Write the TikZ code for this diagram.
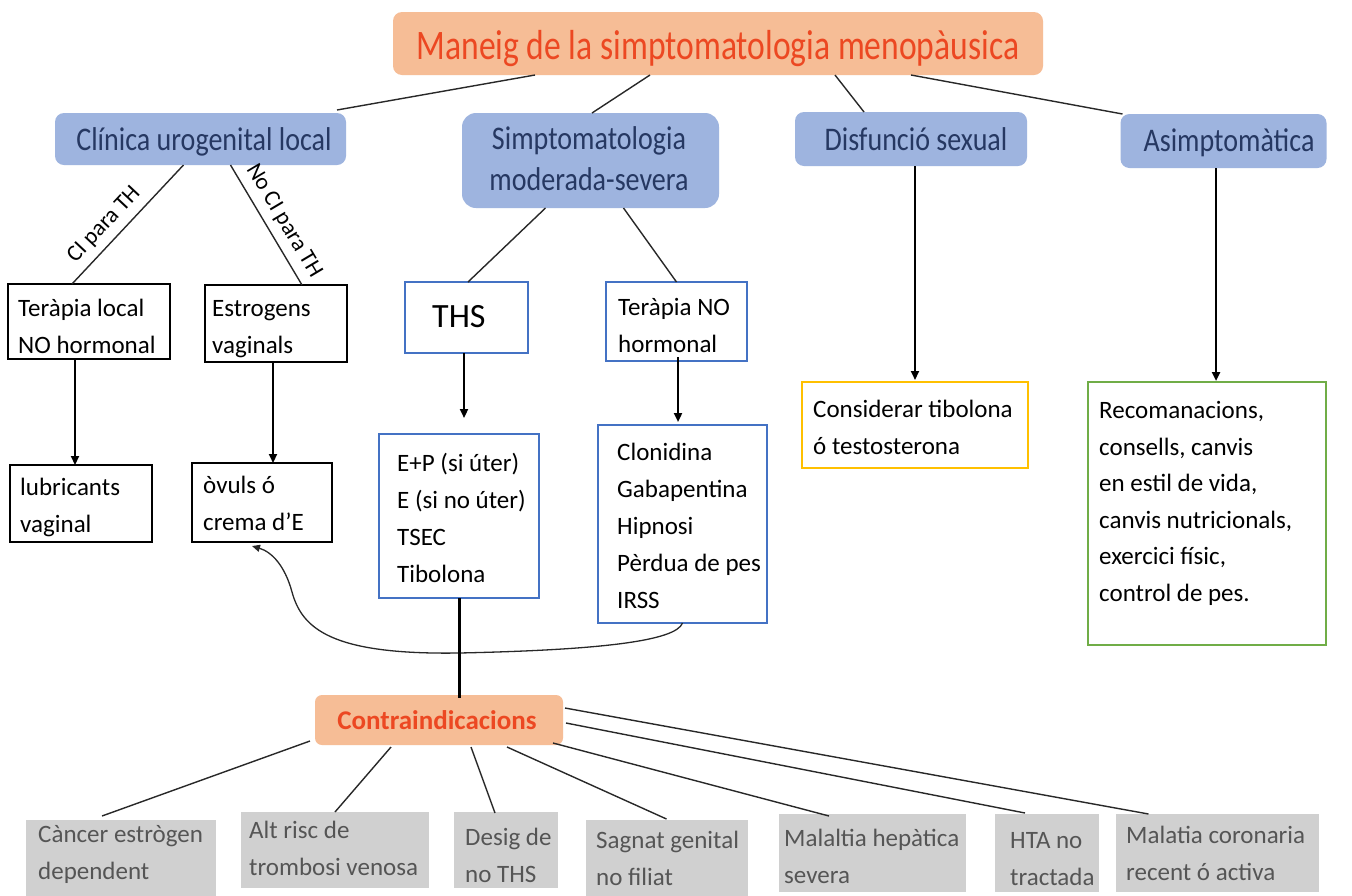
\documentclass[tikz,border=0pt]{standalone}
\usepackage{fontspec}
\setmainfont{Carlito}
\newfontfamily\condfam{Carlito}[FakeStretch=0.85]
\newfontfamily\titlefam{Carlito}[FakeStretch=0.80]
\usetikzlibrary{arrows.meta}
\definecolor{peach}{RGB}{246,189,150}
\definecolor{titlered}{RGB}{236,72,34}
\definecolor{hdrblue}{RGB}{158,180,223}
\definecolor{hdrtext}{RGB}{38,56,98}
\definecolor{boxblue}{RGB}{68,114,196}
\definecolor{boxyellow}{RGB}{255,192,0}
\definecolor{boxgreen}{RGB}{112,173,71}
\definecolor{grayfill}{RGB}{208,208,208}
\definecolor{graytext}{RGB}{85,85,85}
\definecolor{linegray}{RGB}{40,40,40}
\newcommand\myBody{\fontsize{25}{37}\selectfont}
\newcommand\myHdr{\condfam\fontsize{33}{41}\selectfont}
\newcommand\myTitle{\titlefam\fontsize{42}{50}\selectfont}
\newcommand\myLab{\fontsize{23}{28}\selectfont}
\newcommand\myThs{\fontsize{34}{40}\selectfont}
\newcommand\myContra{\bfseries\fontsize{27}{32}\selectfont}
\begin{document}
\begin{tikzpicture}[x=1pt,y=-1pt,
  conn/.style={draw=linegray, line width=1.4pt},
  arr/.style={draw=black, line width=2.2pt, -{Triangle[length=9pt,width=8pt]}},
  curv/.style={draw=linegray, line width=1.3pt, -{Triangle[length=8pt,width=7pt]}},
  basebox/.style={inner sep=0pt, outer sep=0pt, line width=1.3pt},
  titlebox/.style={basebox, fill=peach, rounded corners=9pt},
  hdr/.style={basebox, fill=hdrblue, rounded corners=9pt},
  blk/.style={basebox, draw=black},
  blu/.style={basebox, draw=boxblue},
  ylw/.style={basebox, draw=boxyellow},
  grn/.style={basebox, draw=boxgreen},
  gry/.style={basebox, fill=grayfill},
  htxt/.style={anchor=base, inner sep=0pt, font=\myHdr, text=hdrtext},
  txt/.style={anchor=north west, inner sep=0pt, align=left, font=\myBody, yshift=-9pt},
  gtxt/.style={txt, text=graytext},
  lab/.style={font=\myLab, inner sep=2pt}
]
\useasboundingbox[fill=white] (0,0) rectangle (1352,895);

% ---------- title ----------
\node[titlebox, minimum width=650pt, minimum height=63pt] (Title) at (718,43.5) {};
\node[anchor=base, inner sep=0pt, font=\myTitle, text=titlered] (tTitle) at (718,59) {Maneig de la simptomatologia menopàusica};

% ---------- headers ----------
\node[hdr, minimum width=291pt, minimum height=52pt] (Clin) at (200.5,139) {};
\node[htxt] (tClin) at (204,150) {Clínica urogenital local};
\node[hdr, rounded corners=14pt, minimum width=257pt, minimum height=95pt] (Simpt) at (590.5,160.5) {};
\node[htxt, anchor=north, align=center, yshift=-6pt] (tSimpt) at (589,120.3) {Simptomatologia\\moderada-severa};
\node[hdr, minimum width=232pt, minimum height=54pt] (Disf) at (911,139) {};
\node[htxt] (tDisf) at (916,150) {Disfunció sexual};
\node[hdr, minimum width=206pt, minimum height=54pt] (Asimp) at (1223.5,141) {};
\node[htxt] (tAsimp) at (1229,151) {Asimptomàtica};

% ---------- level 2 / 3 boxes ----------
\node[blk, minimum width=162pt, minimum height=75pt] (TerLoc) at (89,321.5) {};
\node[txt] (tTerLoc) at (18,290.1) {Teràpia local\\NO hormonal};
\node[blk, minimum width=142pt, minimum height=77pt] (Estr) at (276,323.5) {};
\node[txt] (tEstr) at (212,291.1) {Estrogens\\vaginals};
\node[blk, minimum width=142pt, minimum height=77pt] (Lubr) at (81,503.5) {};
\node[txt] (tLubr) at (20,469.1) {lubricants\\vaginal};
\node[blk, minimum width=140pt, minimum height=79pt] (Ovuls) at (262,502.5) {};
\node[txt] (tOvuls) at (203,467.1) {òvuls ó\\crema d’E};

\node[blu, minimum width=123pt, minimum height=71pt] (THS) at (466.5,317.5) {};
\node[anchor=base west, inner sep=0pt, font=\myThs] (tTHS) at (432,327) {THS};
\node[blu, minimum width=141pt, minimum height=79pt] (TerNO) at (676.5,321.5) {};
\node[txt] (tTerNO) at (618,289.1) {Teràpia NO\\hormonal};

\node[blu, minimum width=160pt, minimum height=164pt] (EP) at (459,516) {};
\node[txt] (tEP) at (397,444.1) {E+P (si úter)\\E (si no úter)\\TSEC\\Tibolona};
\node[blu, minimum width=169pt, minimum height=198pt] (Clon) at (682.5,524) {};
\node[txt] (tClon) at (617,434) {Clonidina\\Gabapentina\\Hipnosi\\Pèrdua de pes\\IRSS};

\node[ylw, minimum width=226pt, minimum height=86pt] (Cons) at (915,425) {};
\node[txt] (tCons) at (813,391.1) {Considerar tibolona\\ó testosterona};
\node[grn, minimum width=238pt, minimum height=263pt] (Recom) at (1207,513.5) {};
\node[txt, font=\fontsize{25}{36.6}\selectfont] (tRecom) at (1099,392) {Recomanacions,\\consells, canvis\\en estil de vida,\\canvis nutricionals,\\exercici físic,\\control de pes.};

% ---------- contraindications ----------
\node[titlebox, rounded corners=7pt, minimum width=248pt, minimum height=50pt] (Contra) at (439,720) {};
\node[anchor=base, inner sep=0pt, font=\myContra, text=titlered] (tContra) at (437,729) {Contraindicacions};

\node[gry, minimum width=190pt, minimum height=76pt] (G1) at (121,858) {};
\node[gtxt] (tG1) at (38,816) {Càncer estrògen\\dependent};
\node[gry, minimum width=188pt, minimum height=76pt] (G2) at (335,850) {};
\node[gtxt] (tG2) at (249,811.5) {Alt risc de\\trombosi venosa};
\node[gry, minimum width=104pt, minimum height=76pt] (G3) at (506,850) {};
\node[gtxt] (tG3) at (465,819) {Desig de\\no THS};
\node[gry, minimum width=162pt, minimum height=76pt] (G4) at (666.5,858) {};
\node[gtxt] (tG4) at (596,821.5) {Sagnat genital\\no filiat};
\node[gry, minimum width=187pt, minimum height=78pt] (G5) at (872.5,853) {};
\node[gtxt] (tG5) at (784,819.5) {Malaltia hepàtica\\severa};
\node[gry, minimum width=104pt, minimum height=78pt] (G6) at (1047,853) {};
\node[gtxt] (tG6) at (1010,823) {HTA no\\tractada};
\node[gry, minimum width=203pt, minimum height=78pt] (G7) at (1217.5,853) {};
\node[gtxt] (tG7) at (1126,817) {Malatia coronaria\\recent ó activa};

% ---------- connectors ----------
\draw[conn] ([xshift=-183pt]Title.south) -- ([xshift=-9pt,yshift=3pt]Clin.north east);
\draw[conn] ([xshift=-68pt]Title.south) -- ([xshift=1.5pt]Simpt.north);
\draw[conn] ([xshift=117pt]Title.south) -- ([xshift=-47pt]Disf.north);
\draw[conn] ([xshift=193pt]Title.south) -- ([xshift=2pt]Asimp.north west);

\draw[conn] ([xshift=-17pt]Clin.south) -- node[sloped, above=5pt, lab, pos=0.6] (lCI) {CI para TH} ([xshift=-17pt]TerLoc.north);
\draw[conn] ([xshift=30pt]Clin.south) -- node[sloped, above=5pt, lab, pos=0.54] (lNoCI) {No CI para TH} ([xshift=26pt]Estr.north);
\draw[conn] ([xshift=-45pt]Simpt.south) -- ([xshift=1.5pt]THS.north);
\draw[conn] ([xshift=33pt]Simpt.south) -- (TerNO.north);

\draw[arr] ([xshift=-14pt]TerLoc.south) -- ([xshift=-6pt]Lubr.north);
\draw[arr] ([xshift=-3pt]Estr.south) -- ([xshift=11pt]Ovuls.north);
\draw[arr] ([xshift=-2.5pt]THS.south) -- ([xshift=5pt,yshift=16pt]EP.north);
\draw[arr] ([xshift=1.5pt,yshift=4pt]TerNO.south) -- ([xshift=-4.5pt,yshift=3pt]Clon.north);
\draw[arr, line width=1.8pt] ([xshift=4pt]Disf.south) -- ([yshift=2pt]Cons.north);
\draw[arr, line width=2.4pt] ([xshift=-7.5pt]Asimp.south) -- ([xshift=9pt,yshift=1pt]Recom.north);

\draw[curv] (Clon.south) .. controls (676,641) and (600,650) .. (459,653)
  .. controls (330,655) and (302,628) .. (292,592)
  .. controls (285,566) and (272,552) .. ([xshift=-10pt,yshift=-4pt]Ovuls.south);

\draw[draw=black, line width=3pt] (EP.south) -- ([xshift=20pt,yshift=-3pt]Contra.north);

\draw[conn] ([xshift=-5pt,yshift=4pt]Contra.south west) -- ([xshift=-19pt,yshift=4pt]G1.north);
\draw[conn] ([xshift=-48pt,yshift=-2pt]Contra.south) -- (G2.north);
\draw[conn] ([xshift=32pt,yshift=-2pt]Contra.south) -- ([xshift=-11pt,yshift=-1pt]G3.north);
\draw[conn] ([xshift=68pt,yshift=-2pt]Contra.south) -- ([yshift=1pt]G4.north);
\draw[conn] ([xshift=-10pt,yshift=2pt]Contra.south east) -- ([xshift=-43.5pt,yshift=-2pt]G5.north);
\draw[conn] ([xshift=3pt,yshift=-3pt]Contra.east) -- ([xshift=-22pt,yshift=1pt]G6.north);
\draw[conn] ([xshift=2pt,yshift=12pt]Contra.east) -- ([xshift=-69pt]G7.north);
\end{tikzpicture}
\end{document}
